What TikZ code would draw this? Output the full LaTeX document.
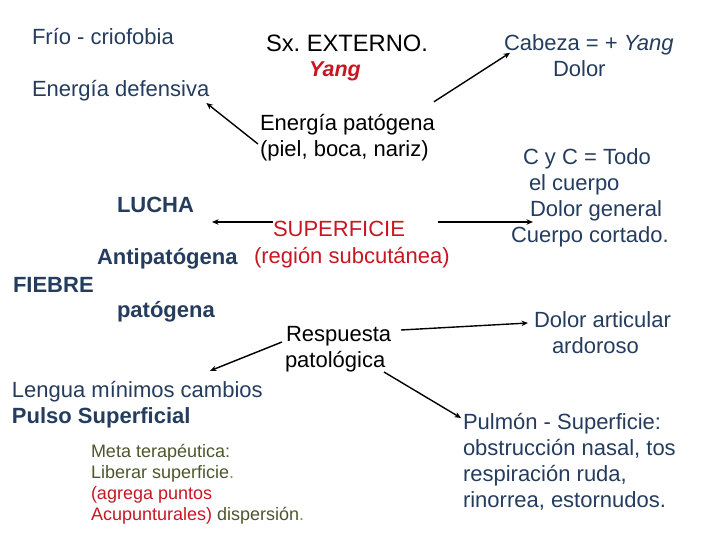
\documentclass[tikz,border=0pt]{standalone}
\usepackage{fontspec}
\setmainfont{Liberation Sans}
\usetikzlibrary{arrows.meta,calc}
\definecolor{navy}{RGB}{36,60,94}
\definecolor{dred}{RGB}{200,22,34}
\definecolor{olive}{RGB}{76,86,44}
\definecolor{lgreen}{RGB}{110,160,60}
\frenchspacing
\begin{document}
\begin{tikzpicture}[x=1pt,y=-1pt,
  every node/.style={inner sep=0pt,outer sep=0pt},
  txt/.style={font=\fontsize{22}{26}\selectfont,text=navy,align=left},
  btxt/.style={txt,font=\fontsize{22}{26}\selectfont\bfseries},
  ktxt/.style={txt,text=black},
  rtxt/.style={txt,text=dred},
  arr/.style={-{Stealth[length=6.5pt,width=5.5pt]},line width=1.4pt,black}]
\useasboundingbox (0,0) rectangle (720,540);

\node[txt,anchor=base west] (frio) at (32,45) {Frío - criofobia};
\node[txt,anchor=base west] (edef) at (32,97) {Energía defensiva};
\node[ktxt,anchor=base west,font=\fontsize{23.7}{28}\selectfont] (sx) at (266,52) {Sx. EXTERNO.};
\node[rtxt,anchor=base west,font=\fontsize{21.5}{26}\selectfont\bfseries\itshape] (yang) at (309,77) {Yang};
\node[ktxt,anchor=north west] (ep) at (260,112.8) {\strut Energía patógena\\\strut(piel, boca, nariz)};
\node[txt,anchor=north west] (cab) at (504,32.8) {\strut Cabeza = + \textit{Yang}\\\strut\hspace*{49pt}Dolor};
\node[txt,anchor=north west] (cyc) at (511,146.8) {\strut\hspace*{12pt}C y C = Todo\\\strut\hspace*{18pt}el cuerpo\\\strut\hspace*{19pt}Dolor general\\\strut Cuerpo cortado.};
\node[txt,anchor=north west] (dart) at (534,308.8) {\strut Dolor articular\\\strut\hspace*{18pt}ardoroso};

\node[btxt,anchor=base west] (lucha) at (117,213) {LUCHA};
\node[rtxt,anchor=north west,font=\fontsize{22}{27.5}\selectfont] (sup) at (254,216.75) {\strut\hspace*{19pt}SUPERFICIE\\\strut(región subcutánea)};
\node[btxt,anchor=base west] (anti) at (97,264) {Antipatógena};
\node[btxt,anchor=base west] (fiebre) at (13,292) {FIEBRE};
\node[btxt,anchor=base west] (pat) at (117,317) {patógena};

\node[ktxt,anchor=north west] (resp) at (285,322.8) {\strut\hspace*{1pt}Respuesta\\\strut patológica};
\node[txt,anchor=north west] (leng) at (12,378.8) {\strut Lengua mínimos cambios\\\strut\textbf{Pulso Superficial}};
\node[txt,text=olive,anchor=north west,font=\fontsize{18}{20.7}\selectfont] (meta) at (91,443.5)
  {\strut Meta terapéutica:\\\strut Liberar superficie\textcolor{lgreen}{.}\\\strut\textcolor{dred}{(agrega puntos}\\\strut\textcolor{dred}{Acupunturales)} dispersión\textcolor{lgreen}{.}};
\node[txt,anchor=north west] (pulm) at (463,410.8) {\strut Pulmón - Superficie:\\\strut obstrucción nasal, tos\\\strut respiración ruda,\\\strut rinorrea, estornudos.};

\draw[arr] ([shift={(-2,31.2)}]ep.north west) -- ([shift={(-3,6)}]edef.base east);
\draw[arr] ([shift={(-1,-11)}]ep.north east) -- ([shift={(6,20)}]cab.north west);
\draw[arr] ([shift={(19,5.25)}]sup.north west) -- ([shift={(18,9)}]lucha.base east);
\draw[arr] ([shift={(184,5.25)}]sup.north west) -- ([shift={(22,75.2)}]cyc.north west);
\draw[arr] ([shift={(116,7.2)}]resp.north west) -- ([shift={(-6,14.2)}]dart.north west);
\draw[arr] ([shift={(-3,19.2)}]resp.north west) -- ([shift={(198,-8)}]leng.north west);
\draw[arr] ([shift={(99,49.2)}]resp.north west) -- ([shift={(-2,7.2)}]pulm.north west);
\end{tikzpicture}
\end{document}
